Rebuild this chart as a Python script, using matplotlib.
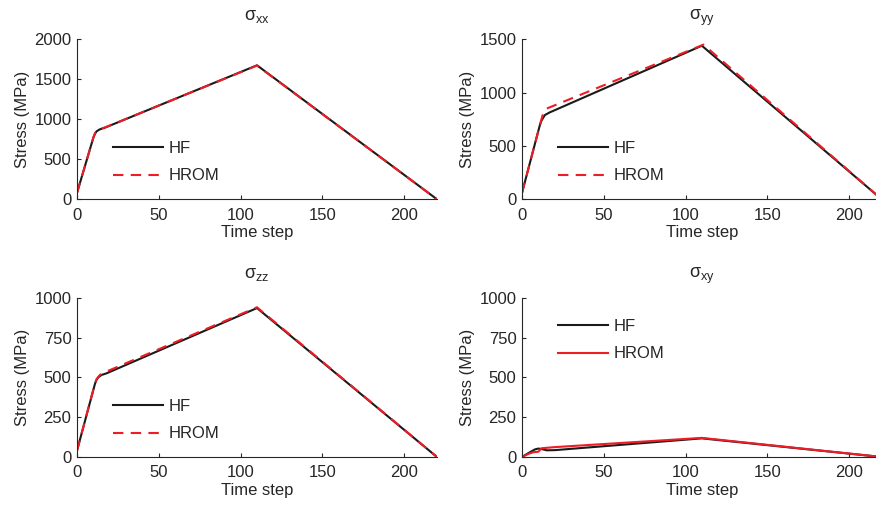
import matplotlib
matplotlib.use("Agg")
import matplotlib.pyplot as plt

plt.rcParams['font.family'] = ['Liberation Sans', 'DejaVu Sans']
plt.rcParams['mathtext.fontset'] = 'custom'
plt.rcParams['mathtext.rm'] = 'Liberation Sans'
plt.rcParams['mathtext.it'] = 'Liberation Sans'
plt.rcParams['mathtext.bf'] = 'Liberation Sans:bold'

TXT = '#262626'
RED = '#ee1c25'

# sigma_xx
xx_hf_t = [0, 10, 11, 12, 14, 17, 110, 220]
xx_hf_s = [80, 770, 820, 850, 875, 895, 1675, 0]
xx_rom_t = [0, 10, 11, 12, 14, 17, 110, 220]
xx_rom_s = [80, 772, 825, 855, 880, 897, 1672, 0]

# sigma_yy
yy_hf_t = [0, 11, 12, 14, 17, 110, 220]
yy_hf_s = [60, 700, 740, 790, 815, 1440, 0]
yy_rom_t = [0, 11, 13, 15, 111, 220]
yy_rom_s = [60, 700, 810, 850, 1450, 0]

# sigma_zz
zz_hf_t = [0, 11, 12, 13, 15, 18, 110, 220]
zz_hf_s = [40, 460, 485, 500, 515, 525, 935, 0]
zz_rom_t = [0, 11, 12, 14, 17, 110, 220]
zz_rom_s = [40, 462, 490, 515, 532, 940, 0]

# sigma_xy
xy_hf_t = [0, 4, 8, 10, 12, 15, 20, 110, 220]
xy_hf_s = [0, 25, 48, 53, 50, 42, 43, 117, 0]
xy_rom_t = [0, 4, 7, 10, 12, 20, 110, 220]
xy_rom_s = [0, 20, 30, 33, 55, 62, 120, 0]

titles = ['xx', 'yy', 'zz', 'xy']
yticks = [[0, 500, 1000, 1500, 2000], [0, 500, 1000, 1500],
          [0, 250, 500, 750, 1000], [0, 250, 500, 750, 1000]]
xticks = [0, 50, 100, 150, 200]

W, H = 876, 505
fig = plt.figure(figsize=(W / 100, H / 100), dpi=100)

boxes = [
    (77, 437, 39.3, 199.3),
    (522, 881.7, 39.3, 199.3),
    (77, 437, 297.7, 457),
    (522, 881.7, 297.7, 457),
]
series = [
    (xx_hf_t, xx_hf_s, xx_rom_t, xx_rom_s, '--'),
    (yy_hf_t, yy_hf_s, yy_rom_t, yy_rom_s, '--'),
    (zz_hf_t, zz_hf_s, zz_rom_t, zz_rom_s, '--'),
    (xy_hf_t, xy_hf_s, xy_rom_t, xy_rom_s, '-'),
]
legend_anchor = [(113, 141), (558, 141), (113, 399), (558, 319)]

FS = 12
for i, (l, r, t, b) in enumerate(boxes):
    ax = fig.add_axes([l / W, (H - b) / H, (r - l) / W, (b - t) / H])
    ht, hs, rt, rs, rstyle = series[i]
    ax.plot(ht, hs, color='#1a1a1a', lw=1.5, label='HF')
    if rstyle == '--':
        ax.plot(rt, rs, color=RED, lw=1.5, ls=(0, (5, 3.5)), label='HROM')
    else:
        ax.plot(rt, rs, color=RED, lw=1.5, label='HROM')
    ax.set_xlim(0, 220)
    ax.set_ylim(yticks[i][0], yticks[i][-1])
    ax.set_xticks(xticks)
    ax.set_yticks(yticks[i])
    for s in ['top', 'right']:
        ax.spines[s].set_visible(False)
    for s in ['left', 'bottom']:
        ax.spines[s].set_color(TXT)
        ax.spines[s].set_linewidth(0.8)
    ax.tick_params(axis='x', pad=6)
    ax.tick_params(direction='in', length=3, width=0.8, colors=TXT,
                   labelsize=FS)
    ax.tick_params(axis='y', pad=4)
    ax.set_xlabel('Time step', fontsize=FS, color=TXT, labelpad=2)
    ax.set_ylabel('Stress (MPa)', fontsize=FS, color=TXT, labelpad=3)
    ax.set_title(r'$\mathregular{\sigma_{%s}}$' % titles[i], fontsize=13,
                 color=TXT, pad=14)
    lx, ly = legend_anchor[i]
    leg = ax.legend(loc='upper left',
                    bbox_to_anchor=(lx / W, (H - ly) / H),
                    bbox_transform=fig.transFigure,
                    frameon=False, fontsize=FS, handlelength=3.0,
                    handletextpad=0.35, labelspacing=0.75,
                    borderaxespad=0, borderpad=0)
    for txt in leg.get_texts():
        txt.set_color(TXT)

fig.savefig('out.png', dpi=100)
